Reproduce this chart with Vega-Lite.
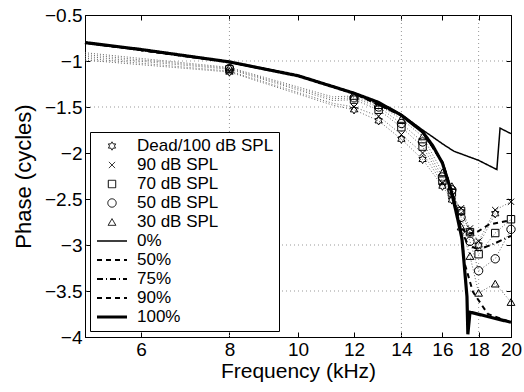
{
  "$schema": "https://vega.github.io/schema/vega-lite/v6.json",
  "autosize": "none",
  "width": 426,
  "height": 322,
  "padding": {"left": 85, "top": 15, "right": 13, "bottom": 55},
  "background": "white",
  "config": {
    "view": {"stroke": "black", "strokeWidth": 1},
    "font": "Liberation Sans",
    "axis": {
      "labelFont": "Liberation Sans", "labelFontSize": 19, "labelColor": "black", "labelFlush": false,
      "titleFont": "Liberation Sans", "titleFontSize": 21, "titleFontWeight": "normal", "titleColor": "black",
      "domainColor": "black", "tickColor": "black", "grid": false
    },
    "legend": {
      "labelFont": "Liberation Sans", "labelFontSize": 17, "labelColor": "black",
      "strokeColor": "black", "fillColor": "white", "padding": 5, "rowPadding": 1,
      "clipHeight": 18, "labelOffset": 8, "symbolStrokeColor": "black", "symbolFillColor": "transparent"
    }
  },
  "datasets": {
    "xgrid": [{"f": 8}, {"f": 14}, {"f": 18}],
    "ygrid": [{"phase": -1}, {"phase": -1.5}, {"phase": -3}, {"phase": -3.5}],
    "meas": [
      {"series": "Dead/100 dB SPL", "f": 5, "phase": -0.99, "marker": false},
      {"series": "Dead/100 dB SPL", "f": 8, "phase": -1.12, "marker": true},
      {"series": "Dead/100 dB SPL", "f": 11.2, "phase": -1.48, "marker": false},
      {"series": "Dead/100 dB SPL", "f": 12, "phase": -1.53, "marker": true},
      {"series": "Dead/100 dB SPL", "f": 13, "phase": -1.65, "marker": true},
      {"series": "Dead/100 dB SPL", "f": 14, "phase": -1.85, "marker": true},
      {"series": "Dead/100 dB SPL", "f": 15, "phase": -2.07, "marker": true},
      {"series": "Dead/100 dB SPL", "f": 16, "phase": -2.36, "marker": true},
      {"series": "Dead/100 dB SPL", "f": 16.5, "phase": -2.51, "marker": true},
      {"series": "Dead/100 dB SPL", "f": 17, "phase": -2.64, "marker": true},
      {"series": "Dead/100 dB SPL", "f": 17.5, "phase": -2.86, "marker": true},
      {"series": "Dead/100 dB SPL", "f": 18, "phase": -3.0, "marker": true},
      {"series": "Dead/100 dB SPL", "f": 19, "phase": -2.66, "marker": true},
      {"series": "90 dB SPL", "f": 5, "phase": -0.97, "marker": false},
      {"series": "90 dB SPL", "f": 8, "phase": -1.11, "marker": true},
      {"series": "90 dB SPL", "f": 11.2, "phase": -1.46, "marker": false},
      {"series": "90 dB SPL", "f": 12, "phase": -1.5, "marker": true},
      {"series": "90 dB SPL", "f": 13, "phase": -1.6, "marker": true},
      {"series": "90 dB SPL", "f": 14, "phase": -1.8, "marker": true},
      {"series": "90 dB SPL", "f": 15, "phase": -2.0, "marker": true},
      {"series": "90 dB SPL", "f": 16, "phase": -2.33, "marker": true},
      {"series": "90 dB SPL", "f": 16.5, "phase": -2.47, "marker": true},
      {"series": "90 dB SPL", "f": 17, "phase": -2.6, "marker": true},
      {"series": "90 dB SPL", "f": 17.5, "phase": -2.82, "marker": true},
      {"series": "90 dB SPL", "f": 18, "phase": -2.96, "marker": true},
      {"series": "90 dB SPL", "f": 19, "phase": -2.62, "marker": true},
      {"series": "90 dB SPL", "f": 20, "phase": -2.53, "marker": true},
      {"series": "70 dB SPL", "f": 5, "phase": -0.95, "marker": false},
      {"series": "70 dB SPL", "f": 8, "phase": -1.09, "marker": true},
      {"series": "70 dB SPL", "f": 11.2, "phase": -1.43, "marker": false},
      {"series": "70 dB SPL", "f": 12, "phase": -1.42, "marker": true},
      {"series": "70 dB SPL", "f": 13, "phase": -1.53, "marker": true},
      {"series": "70 dB SPL", "f": 14, "phase": -1.72, "marker": true},
      {"series": "70 dB SPL", "f": 15, "phase": -1.93, "marker": true},
      {"series": "70 dB SPL", "f": 16, "phase": -2.3, "marker": true},
      {"series": "70 dB SPL", "f": 16.5, "phase": -2.43, "marker": true},
      {"series": "70 dB SPL", "f": 17, "phase": -2.63, "marker": true},
      {"series": "70 dB SPL", "f": 17.5, "phase": -2.86, "marker": true},
      {"series": "70 dB SPL", "f": 18, "phase": -3.1, "marker": true},
      {"series": "70 dB SPL", "f": 19, "phase": -2.87, "marker": true},
      {"series": "70 dB SPL", "f": 20, "phase": -2.72, "marker": true},
      {"series": "50 dB SPL", "f": 5, "phase": -0.93, "marker": false},
      {"series": "50 dB SPL", "f": 8, "phase": -1.08, "marker": true},
      {"series": "50 dB SPL", "f": 11.2, "phase": -1.41, "marker": false},
      {"series": "50 dB SPL", "f": 12, "phase": -1.4, "marker": true},
      {"series": "50 dB SPL", "f": 13, "phase": -1.5, "marker": true},
      {"series": "50 dB SPL", "f": 14, "phase": -1.68, "marker": true},
      {"series": "50 dB SPL", "f": 15, "phase": -1.88, "marker": true},
      {"series": "50 dB SPL", "f": 16, "phase": -2.26, "marker": true},
      {"series": "50 dB SPL", "f": 16.5, "phase": -2.4, "marker": true},
      {"series": "50 dB SPL", "f": 17, "phase": -2.7, "marker": true},
      {"series": "50 dB SPL", "f": 17.5, "phase": -2.96, "marker": true},
      {"series": "50 dB SPL", "f": 18, "phase": -3.28, "marker": true},
      {"series": "50 dB SPL", "f": 19, "phase": -3.15, "marker": true},
      {"series": "50 dB SPL", "f": 20, "phase": -2.83, "marker": true},
      {"series": "30 dB SPL", "f": 5, "phase": -0.91, "marker": false},
      {"series": "30 dB SPL", "f": 8, "phase": -1.07, "marker": true},
      {"series": "30 dB SPL", "f": 11.2, "phase": -1.39, "marker": false},
      {"series": "30 dB SPL", "f": 12, "phase": -1.38, "marker": true},
      {"series": "30 dB SPL", "f": 13, "phase": -1.48, "marker": true},
      {"series": "30 dB SPL", "f": 14, "phase": -1.63, "marker": true},
      {"series": "30 dB SPL", "f": 15, "phase": -1.82, "marker": true},
      {"series": "30 dB SPL", "f": 16, "phase": -2.21, "marker": true},
      {"series": "30 dB SPL", "f": 16.5, "phase": -2.36, "marker": true},
      {"series": "30 dB SPL", "f": 17, "phase": -2.8, "marker": true},
      {"series": "30 dB SPL", "f": 17.5, "phase": -3.12, "marker": true},
      {"series": "30 dB SPL", "f": 18, "phase": -3.52, "marker": true},
      {"series": "30 dB SPL", "f": 19, "phase": -3.42, "marker": true},
      {"series": "30 dB SPL", "f": 20, "phase": -3.62, "marker": true}
    ],
    "model": [
      {"series": "0%", "f": 5, "phase": -0.8},
      {"series": "0%", "f": 6, "phase": -0.875},
      {"series": "0%", "f": 8, "phase": -1.01},
      {"series": "0%", "f": 10, "phase": -1.16},
      {"series": "0%", "f": 12, "phase": -1.35},
      {"series": "0%", "f": 13, "phase": -1.45},
      {"series": "0%", "f": 14, "phase": -1.58},
      {"series": "0%", "f": 15, "phase": -1.75},
      {"series": "0%", "f": 15.4, "phase": -1.81},
      {"series": "0%", "f": 16, "phase": -1.9},
      {"series": "0%", "f": 16.6, "phase": -1.98},
      {"series": "0%", "f": 18, "phase": -2.08},
      {"series": "0%", "f": 19.1, "phase": -2.18},
      {"series": "0%", "f": 19.3, "phase": -1.73},
      {"series": "0%", "f": 20, "phase": -1.79},
      {"series": "50%", "f": 5, "phase": -0.8},
      {"series": "50%", "f": 8, "phase": -1.01},
      {"series": "50%", "f": 10, "phase": -1.16},
      {"series": "50%", "f": 12, "phase": -1.35},
      {"series": "50%", "f": 14, "phase": -1.59},
      {"series": "50%", "f": 15, "phase": -1.77},
      {"series": "50%", "f": 16, "phase": -2.1},
      {"series": "50%", "f": 16.5, "phase": -2.42},
      {"series": "50%", "f": 17, "phase": -2.8},
      {"series": "50%", "f": 17.3, "phase": -2.88},
      {"series": "50%", "f": 17.9, "phase": -2.86},
      {"series": "50%", "f": 18.6, "phase": -2.78},
      {"series": "50%", "f": 20, "phase": -2.73},
      {"series": "75%", "f": 5, "phase": -0.8},
      {"series": "75%", "f": 8, "phase": -1.01},
      {"series": "75%", "f": 10, "phase": -1.16},
      {"series": "75%", "f": 12, "phase": -1.35},
      {"series": "75%", "f": 14, "phase": -1.59},
      {"series": "75%", "f": 15, "phase": -1.77},
      {"series": "75%", "f": 16, "phase": -2.1},
      {"series": "75%", "f": 16.5, "phase": -2.43},
      {"series": "75%", "f": 17, "phase": -2.84},
      {"series": "75%", "f": 17.4, "phase": -3.0},
      {"series": "75%", "f": 18, "phase": -3.05},
      {"series": "75%", "f": 19, "phase": -2.98},
      {"series": "75%", "f": 20, "phase": -2.9},
      {"series": "90%", "f": 5, "phase": -0.8},
      {"series": "90%", "f": 8, "phase": -1.01},
      {"series": "90%", "f": 10, "phase": -1.16},
      {"series": "90%", "f": 12, "phase": -1.35},
      {"series": "90%", "f": 14, "phase": -1.59},
      {"series": "90%", "f": 15, "phase": -1.77},
      {"series": "90%", "f": 16, "phase": -2.1},
      {"series": "90%", "f": 16.5, "phase": -2.43},
      {"series": "90%", "f": 17, "phase": -2.86},
      {"series": "90%", "f": 17.2, "phase": -3.2},
      {"series": "90%", "f": 17.67, "phase": -3.51},
      {"series": "90%", "f": 18.55, "phase": -3.75},
      {"series": "90%", "f": 20, "phase": -3.84},
      {"series": "100%", "f": 5, "phase": -0.8},
      {"series": "100%", "f": 6, "phase": -0.875},
      {"series": "100%", "f": 8, "phase": -1.01},
      {"series": "100%", "f": 10, "phase": -1.16},
      {"series": "100%", "f": 12, "phase": -1.35},
      {"series": "100%", "f": 13, "phase": -1.45},
      {"series": "100%", "f": 14, "phase": -1.59},
      {"series": "100%", "f": 15, "phase": -1.77},
      {"series": "100%", "f": 15.5, "phase": -1.92},
      {"series": "100%", "f": 16, "phase": -2.11},
      {"series": "100%", "f": 16.5, "phase": -2.44},
      {"series": "100%", "f": 16.83, "phase": -2.73},
      {"series": "100%", "f": 17.05, "phase": -2.93},
      {"series": "100%", "f": 17.33, "phase": -3.56},
      {"series": "100%", "f": 17.38, "phase": -3.97},
      {"series": "100%", "f": 17.5, "phase": -3.73},
      {"series": "100%", "f": 20, "phase": -3.84}
    ]
  },
  "resolve": {"axis": {"x": "independent", "y": "independent"}},
  "layer": [
    {
      "data": {"name": "xgrid"},
      "mark": {"type": "rule", "color": "#999", "strokeDash": [1, 3], "strokeWidth": 1},
      "encoding": {
        "x": {"field": "f", "type": "quantitative",
          "scale": {"type": "log", "domain": [5, 20], "nice": false},
          "axis": {"orient": "bottom", "values": [6, 8, 10, 12, 14, 16, 18, 20], "format": "~g",
            "title": "Frequency (kHz)", "tickSize": -5, "labelPadding": 8, "titlePadding": 1}}
      }
    },
    {
      "data": {"name": "ygrid"},
      "mark": {"type": "rule", "color": "#999", "strokeDash": [1, 3], "strokeWidth": 1},
      "encoding": {
        "y": {"field": "phase", "type": "quantitative",
          "scale": {"domain": [-4, -0.5], "nice": false, "zero": false},
          "axis": {"orient": "left", "values": [-4, -3.5, -3, -2.5, -2, -1.5, -1, -0.5], "format": "~g",
            "title": "Phase (cycles)", "titleFontSize": 22, "tickSize": -5, "labelPadding": 8, "titlePadding": 9}}
      }
    },
    {
      "data": {"name": "meas"},
      "mark": {"type": "line", "color": "#666", "strokeDash": [1, 2], "strokeWidth": 1},
      "encoding": {
        "x": {"field": "f", "type": "quantitative", "axis": null},
        "y": {"field": "phase", "type": "quantitative", "axis": null},
        "detail": {"field": "series", "type": "nominal"}
      }
    },
    {
      "data": {"name": "model"},
      "mark": {"type": "line", "color": "black"},
      "encoding": {
        "x": {"field": "f", "type": "quantitative",
          "axis": {"orient": "top", "values": [6, 8, 10, 12, 14, 16, 18, 20], "labels": false, "title": null, "tickSize": -5, "domain": false}},
        "y": {"field": "phase", "type": "quantitative",
          "axis": {"orient": "right", "values": [-4, -3.5, -3, -2.5, -2, -1.5, -1, -0.5], "labels": false, "title": null, "tickSize": -5, "domain": false}},
        "strokeDash": {"field": "series", "type": "nominal",
          "scale": {"domain": ["Dead/100 dB SPL", "90 dB SPL", "70 dB SPL", "50 dB SPL", "30 dB SPL", "0%", "50%", "75%", "90%", "100%"],
            "range": [[1, 0], [1, 0], [1, 0], [1, 0], [1, 0], [1, 0], [5, 4], [6, 3, 1, 3], [5, 4], [1, 0]]},
          "legend": {"orient": "none", "legendX": 5, "legendY": 117, "title": null}},
        "strokeWidth": {"field": "series", "type": "nominal",
          "scale": {"type": "ordinal", "domain": ["Dead/100 dB SPL", "90 dB SPL", "70 dB SPL", "50 dB SPL", "30 dB SPL", "0%", "50%", "75%", "90%", "100%"],
            "range": [1, 1, 1, 1, 1, 1.5, 2, 2, 2, 3.2]},
          "legend": {"orient": "none", "legendX": 5, "legendY": 117, "title": null}}
      }
    },
    {
      "data": {"name": "meas"},
      "transform": [{"filter": "datum.marker"}],
      "mark": {"type": "point", "filled": false, "color": "black", "strokeWidth": 1, "opacity": 1},
      "encoding": {
        "x": {"field": "f", "type": "quantitative", "axis": null},
        "y": {"field": "phase", "type": "quantitative", "axis": null},
        "shape": {"field": "series", "type": "nominal",
          "scale": {"domain": ["Dead/100 dB SPL", "90 dB SPL", "70 dB SPL", "50 dB SPL", "30 dB SPL", "0%", "50%", "75%", "90%", "100%"],
            "range": ["M0,-1L0.289,-0.5L0.866,-0.5L0.577,0L0.866,0.5L0.289,0.5L0,1L-0.289,0.5L-0.866,0.5L-0.577,0L-0.866,-0.5L-0.289,-0.5Z",
              "M-0.8,-0.8L0.8,0.8M-0.8,0.8L0.8,-0.8", "square", "circle", "triangle-up", "stroke", "stroke", "stroke", "stroke", "stroke"]},
          "legend": {"orient": "none", "legendX": 5, "legendY": 117, "title": null}},
        "size": {"field": "series", "type": "nominal",
          "scale": {"type": "ordinal", "domain": ["Dead/100 dB SPL", "90 dB SPL", "70 dB SPL", "50 dB SPL", "30 dB SPL", "0%", "50%", "75%", "90%", "100%"],
            "range": [70, 60, 55, 70, 60, 900, 900, 900, 900, 900]},
          "legend": {"orient": "none", "legendX": 5, "legendY": 117, "title": null}}
      }
    }
  ]
}
